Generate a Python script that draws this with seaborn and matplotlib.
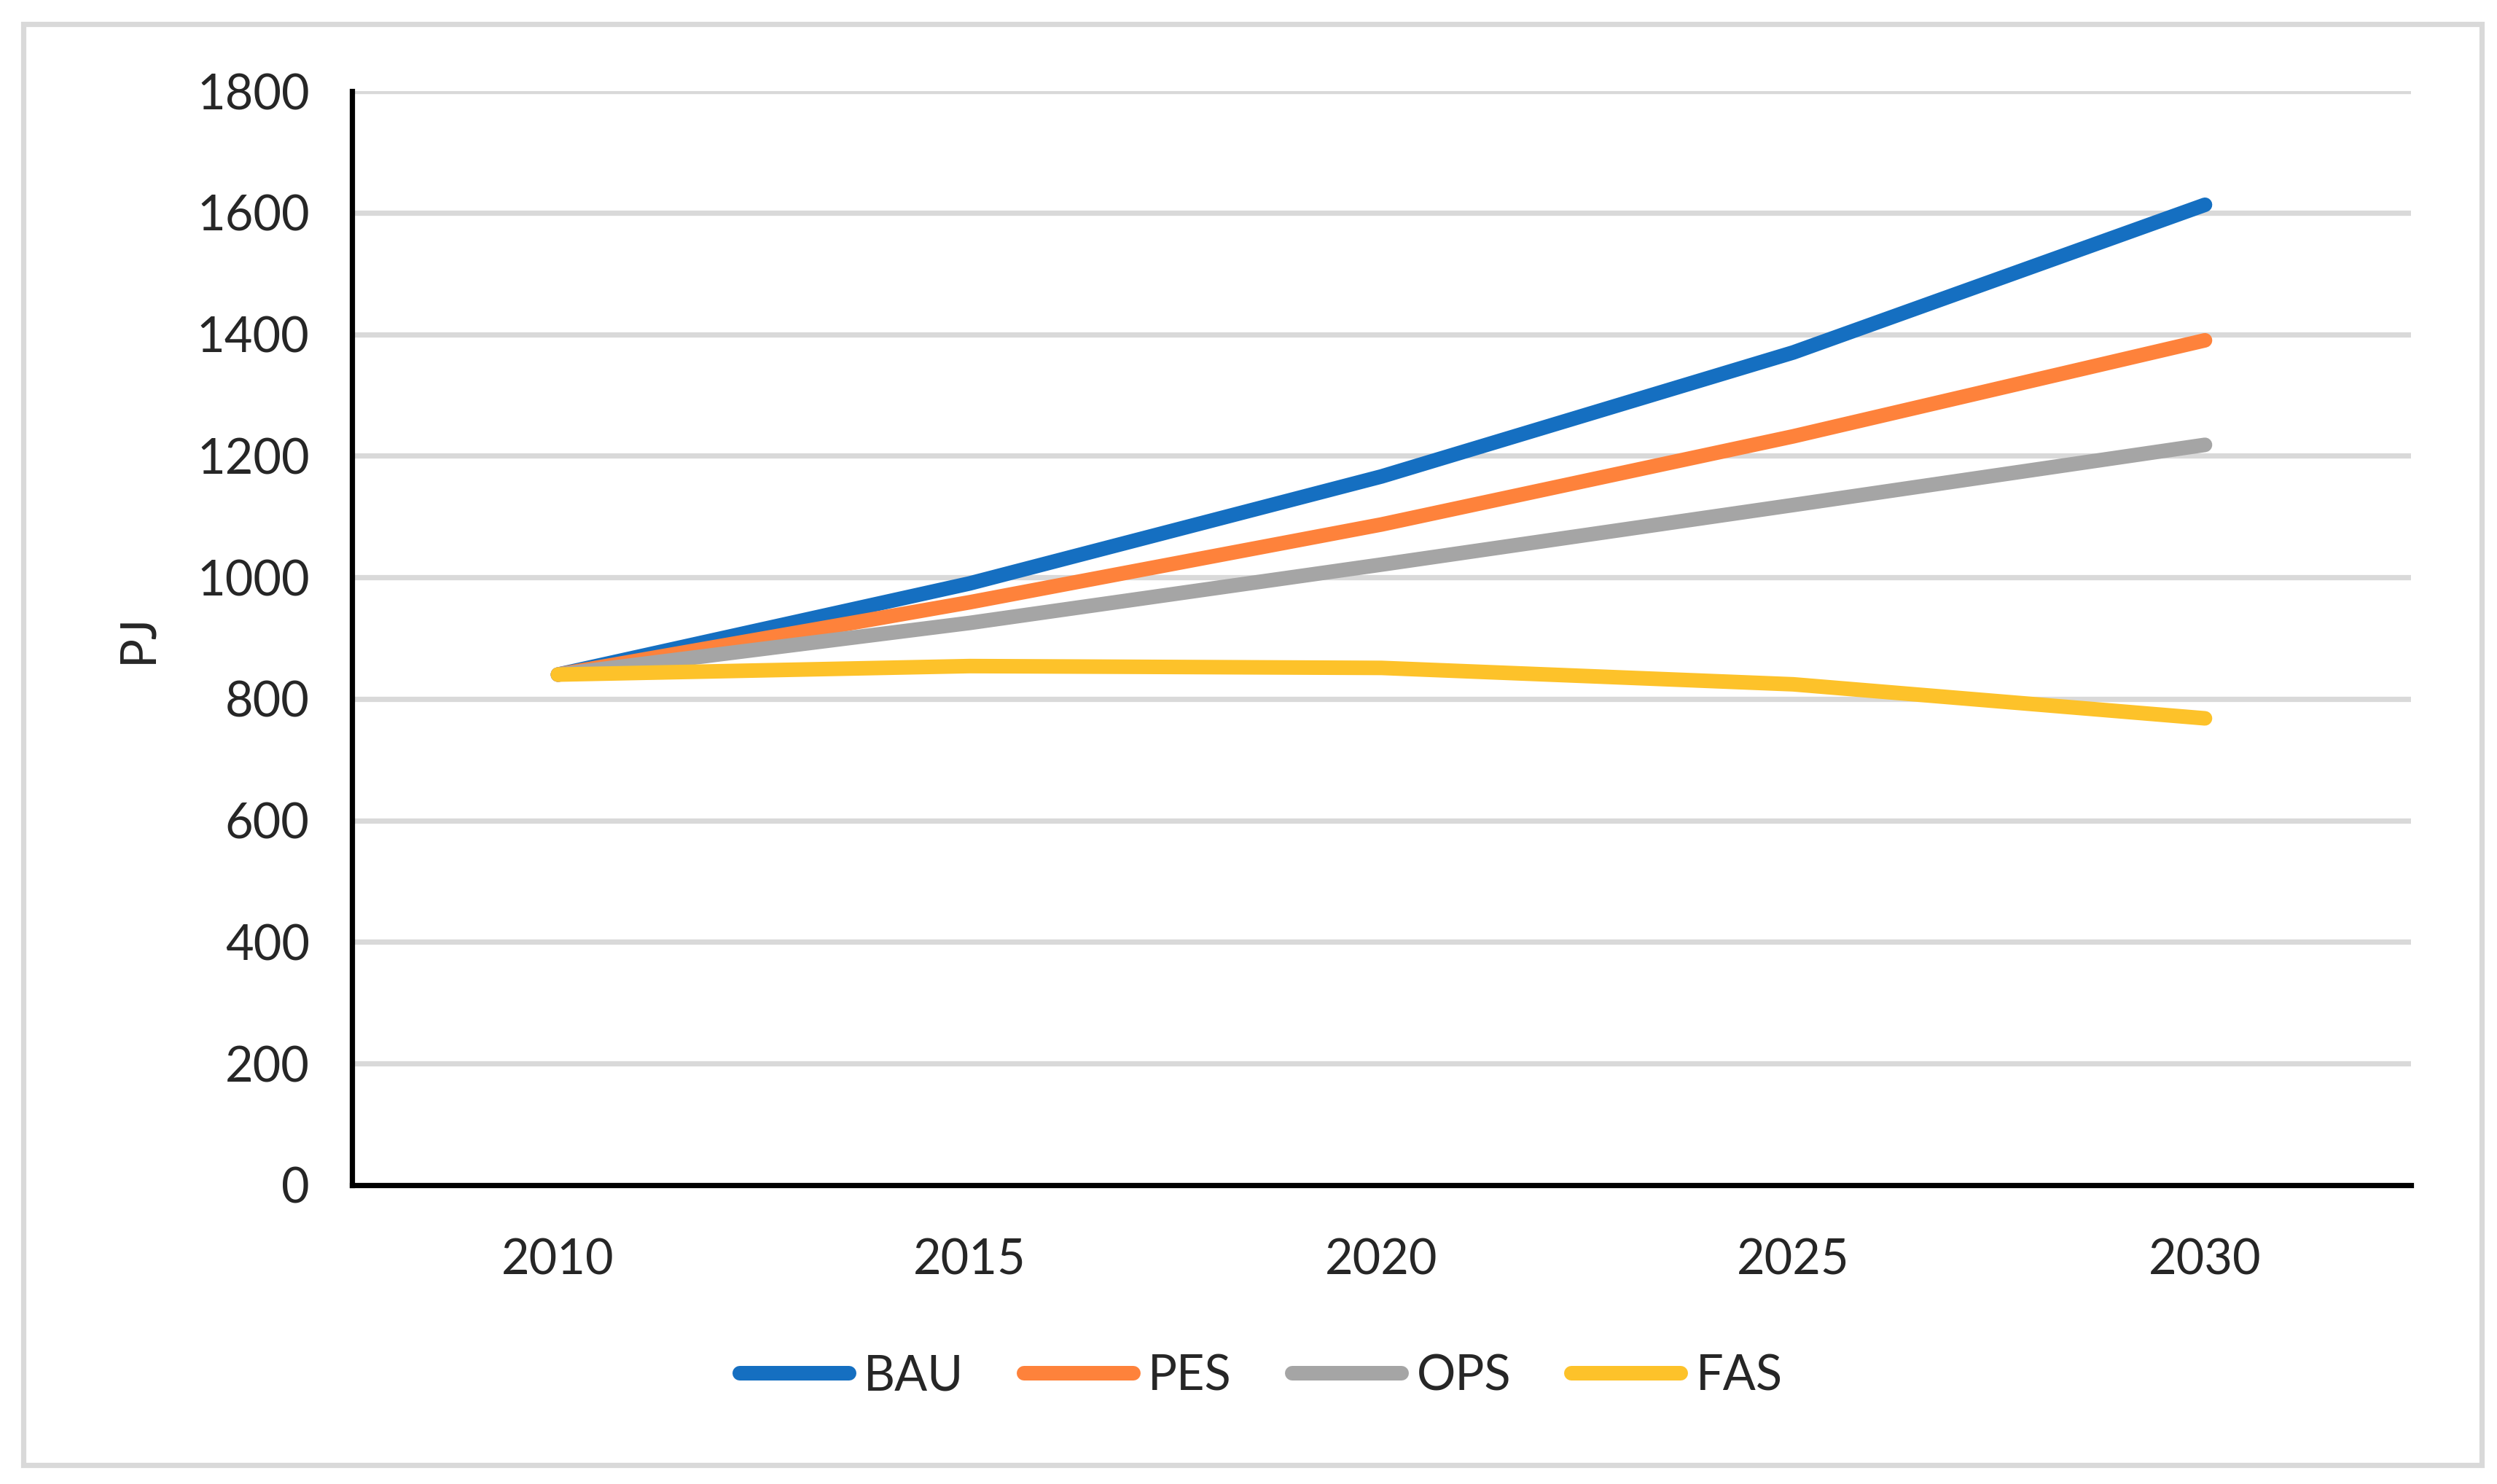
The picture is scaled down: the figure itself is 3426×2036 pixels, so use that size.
import numpy as np
import pandas as pd
import matplotlib
matplotlib.use("Agg")
import matplotlib.pyplot as plt
from matplotlib.patches import Rectangle
import seaborn as sns

sns.set_style('white')
plt.rcParams['font.family'] = ['Lato', 'DejaVu Sans']

YEARS = ["2010", "2015", "2020", "2025", "2030"]
BAU = [840, 990, 1166, 1370, 1613]
PES = [840, 959, 1087, 1232, 1390]
OPS = [840, 925, 1021, 1119, 1218]
FAS = [840, 854, 851, 824, 768]

SERIES = {"BAU": BAU, "PES": PES, "OPS": OPS, "FAS": FAS}
COLORS = {"BAU": "#156fc1", "PES": "#fe823b", "OPS": "#a5a5a5", "FAS": "#fdc22a"}

records = []
for name, vals in SERIES.items():
    for i, v in enumerate(vals):
        records.append({"year": YEARS[i], "pos": i, "value": v, "scenario": name})
df = pd.DataFrame.from_records(records)

LW = 7.2

fig = plt.figure(figsize=(17.13, 10.18), dpi=200)
ax = fig.add_axes([0.141, 0.2014, 0.8245, 0.7372])

sns.lineplot(data=df, x="pos", y="value", hue="scenario", palette=COLORS,
             linewidth=LW, ax=ax, legend=True)

ax.set_xlim(-0.5, len(YEARS) - 0.5)
ax.set_ylim(0, 1800)
ax.set_yticks(np.arange(0, 1801, 200))
ax.set_xticks(range(len(YEARS)))
ax.set_xticklabels(YEARS)
ax.set_xticks(np.arange(-0.5, len(YEARS), 1.0), minor=True)

ax.yaxis.grid(True, color="#d9d9d9", linewidth=2.6)
ax.xaxis.grid(False)
ax.set_axisbelow(True)

for side in ["top", "right"]:
    ax.spines[side].set_visible(False)
for side in ["left", "bottom"]:
    ax.spines[side].set_color("black")
    ax.spines[side].set_linewidth(2.6)

ax.tick_params(axis="y", which="major", length=7, width=2.6, color="black",
               labelsize=24, pad=14, direction="out")
ax.tick_params(axis="x", which="major", length=0, labelsize=24, pad=26)
ax.tick_params(axis="x", which="minor", length=7, width=1.8, color="black",
               direction="out")

ax.set_xlabel("")
ax.set_ylabel("PJ", fontsize=24, labelpad=18)

for line in ax.get_lines():
    line.set_solid_capstyle("round")
    line.set_solid_joinstyle("round")

handles, labels = ax.get_legend_handles_labels()
leg = ax.legend(handles, labels, loc="center", bbox_to_anchor=(0.505, 1 - 1888 / 2036),
                bbox_transform=fig.transFigure, ncol=4, frameon=False, fontsize=24,
                handlelength=2.25, handletextpad=0.3, columnspacing=1.25)
for h in leg.get_lines():
    h.set_linewidth(LW)
    h.set_solid_capstyle("round")

fig.patches.append(Rectangle((32 / 3426, 1 - 2010 / 2036), (3405 - 32) / 3426,
                             (2010 - 33) / 2036, transform=fig.transFigure,
                             fill=False, edgecolor="#d9d9d9", linewidth=2.6))

fig.savefig("out.png", dpi=200)
